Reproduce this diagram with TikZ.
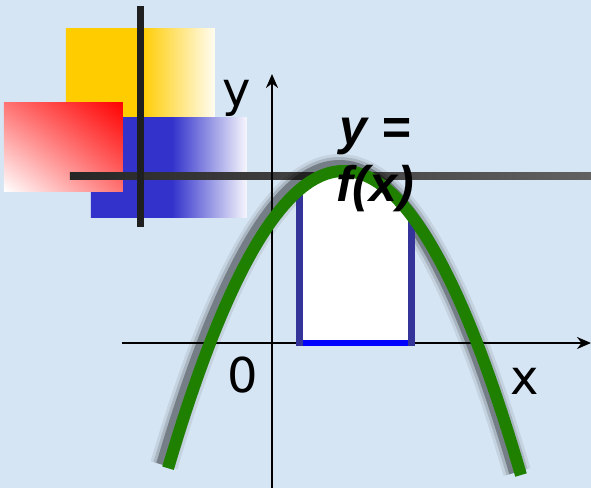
\documentclass[tikz,border=0pt]{standalone}
\usepackage{fontspec}
\setmainfont{DejaVu Sans}
\newfontfamily\titlefont{Liberation Sans}
\usetikzlibrary{arrows.meta, shadings}
\definecolor{bgblue}{RGB}{214,229,244}
\definecolor{gold}{RGB}{255,204,0}
\definecolor{royal}{RGB}{51,51,204}
\definecolor{barblue}{RGB}{51,51,153}
\definecolor{leaf}{RGB}{31,128,0}
\pgfdeclarehorizontalshading{goldfade}{100bp}{color(0bp)=(gold); color(50.2bp)=(gold); color(75bp)=(gold!5); color(100bp)=(gold!5)}
\pgfdeclarehorizontalshading{royalfade}{100bp}{color(0bp)=(royal); color(51bp)=(royal); color(75bp)=(royal!4); color(100bp)=(royal!4)}
\tikzset{
  axis/.style={line width=1pt,-{Stealth[length=7pt,width=6pt]}},
  bar/.style={line width=3.5pt,barblue},
  base/.style={line width=3pt,blue},
  curve/.style={line width=6pt,leaf},
  cross/.style={line width=3.5pt,black!88},
  lbl/.style={font=\fontsize{24}{24}\selectfont,inner sep=0pt},
  title/.style={font=\titlefont\fontsize{25}{28.5}\selectfont\bfseries\itshape,align=center,inner sep=0pt}
}

\begin{document}
\begin{tikzpicture}[x=0.5pt,y=-0.5pt,declare function={f(\t)=171+96.5*((\t-343.5)/100)*((\t-343.5)/100);}]
\fill[bgblue] (0,0) rectangle (591,488);
\useasboundingbox (0,0) rectangle (591,488);
\shade[shading=goldfade] (66,28) rectangle (215,117);
\shade[shading=royalfade] (91,117) rectangle (247,217);
\shade[upper right=red,lower left=white,upper left=red!55,lower right=red!55] (4,102) rectangle (123,191);
\shade[left color=black!85,right color=black!62] (70,172.5) rectangle (591,179.5);
\coordinate (vt) at (141,6);
\coordinate (vb) at (141,227);
\draw[cross] (vt) -- (vb);
\coordinate (xs) at (122,343);
\coordinate (xe) at (591,343);
\coordinate (ys) at (272,488);
\coordinate (ye) at (272,74);
\draw[axis] (xs) -- (xe);
\draw[axis] (ys) -- (ye);
\foreach \w/\o in {14pt/0.08,11pt/0.14,8pt/0.3}
  \draw[line width=\w,black,opacity=\o,shift={(-4,-3)}] plot[domain=168:521,samples=80] (\x,{f(\x)});
\fill[white] (300,343) -- plot[domain=300:412,samples=30] (\x,{f(\x)}) -- (412,343) -- cycle;
\coordinate (lt) at (300,{f(300)});
\coordinate (lb) at (300,346);
\coordinate (rt) at (412,{f(412)});
\coordinate (rb) at (412,346);
\draw[bar] (lt) -- (lb);
\draw[bar] (rt) -- (rb);
\coordinate (bl) at (303.5,343);
\coordinate (br) at (408.5,343);
\draw[base] (bl) -- (br);
\draw[curve] plot[domain=168:521,samples=80] (\x,{f(\x)});
\node[lbl] (ylab) at (237,98) {y};
\node[lbl] (zero) at (243,375) {0};
\node[lbl] (xlab) at (525,381) {x};
\node[title] (fx) at (375,165) {y =\\f(x)};
\end{tikzpicture}
\end{document}
